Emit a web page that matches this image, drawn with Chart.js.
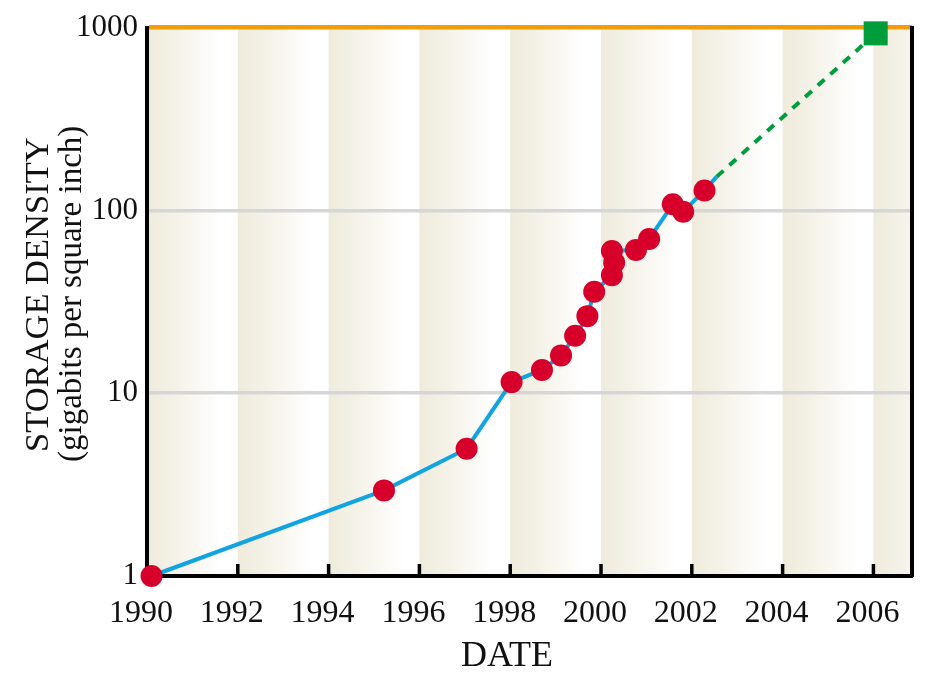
<!DOCTYPE html>
<html>
<head>
<meta charset="utf-8">
<title>Storage density</title>
<script src="https://cdn.jsdelivr.net/npm/chart.js@4.4.0/dist/chart.umd.min.js"></script>
<style>
  html, body { margin: 0; padding: 0; background: #fff; }
  #wrap { width: 940px; height: 677px; }
</style>
</head>
<body>
<div id="wrap"><canvas id="graficaDensidad"></canvas></div>
<script>
// measured drives (red dots, blue line)
const measYears = [1990.1, 1995.22, 1997.04, 1998.03, 1998.70, 1999.12, 1999.43, 1999.70, 1999.85,
                   2000.24, 2000.29, 2000.24, 2000.77, 2001.06, 2001.58, 2001.81, 2002.28, 2002.55];
const measDensity = [1.0, 2.94, 4.97, 11.5, 13.4, 16.1, 20.6, 26.4, 35.9,
                     44.2, 51.8, 60.0, 60.8, 69.8, 108, 98.4, 128.6, 153];
// projection (green dashes and square)
const projYears = [2002.55, 2006.05];
const projDensity = [153, 930];

const xTicks = [1990, 1992, 1994, 1996, 1998, 2000, 2002, 2004, 2006];
const yTicks = [1, 10, 100, 1000];

const serif = '"Liberation Serif", "DejaVu Serif", serif';

// alternating beige bands behind the plot
const bandsPlugin = {
    id: 'bands',
    beforeDraw(chart) {
        const { ctx, chartArea: a, scales: { x } } = chart;
        ctx.save();
        ctx.fillStyle = '#ffffff';
        ctx.fillRect(a.left, a.top, a.right - a.left, a.bottom - a.top);
        for (let yr = 1990; yr < x.max; yr += 2) {
            const x0 = x.getPixelForValue(yr);
            const x1 = Math.min(x.getPixelForValue(yr + 2), a.right);
            const w = x.getPixelForValue(yr + 2) - x0;
            const g = ctx.createLinearGradient(x0, 0, x0 + w * 0.82, 0);
            g.addColorStop(0, '#efebdc');
            g.addColorStop(0.45, '#f5f3ea');
            g.addColorStop(1, '#ffffff');
            ctx.fillStyle = g;
            ctx.fillRect(x0, a.top, x1 - x0, a.bottom - a.top);
        }
        ctx.restore();
    },
    beforeDatasetsDraw(chart) {
        // ticks pointing up into the plot
        const { ctx, chartArea: a, scales: { x } } = chart;
        ctx.save();
        ctx.strokeStyle = '#000';
        ctx.lineWidth = 3.5;
        xTicks.slice(1).forEach(t => {
            const px = x.getPixelForValue(t);
            ctx.beginPath();
            ctx.moveTo(px, a.bottom);
            ctx.lineTo(px, a.bottom - 12);
            ctx.stroke();
        });
        ctx.restore();
    },
    afterDraw(chart) {
        const { ctx } = chart;
        ctx.save();
        ctx.fillStyle = '#111';
        ctx.textAlign = 'left';
        ctx.textBaseline = 'alphabetic';
        ctx.translate(48, 452);
        ctx.rotate(-Math.PI / 2);
        ctx.font = '34.5px ' + serif;
        ctx.fillText('STORAGE DENSITY', 0, 0);
        ctx.font = '33px ' + serif;
        ctx.fillText('(gigabits per square inch)', -10, 33);
        ctx.restore();

        ctx.save();
        ctx.fillStyle = '#111';
        ctx.font = '36px ' + serif;
        ctx.textAlign = 'center';
        ctx.textBaseline = 'alphabetic';
        ctx.fillText('DATE', 507, 666);
        ctx.restore();
    }
};

const ctx = document.getElementById('graficaDensidad');

new Chart(ctx, {
    type: 'scatter',
    data: {
        datasets: [{
            label: 'Medido',
            data: measYears.map((y, i) => ({ x: y, y: measDensity[i] })),
            showLine: true,
            borderColor: '#12a4e0',
            borderWidth: 4,
            backgroundColor: '#d7002b',
            pointBackgroundColor: '#d7002b',
            pointBorderWidth: 0,
            pointRadius: c => c.dataIndex === measYears.length - 1 ? 0 : 11,
            pointHoverRadius: 11,
            clip: false,
            order: 1
        }, {
            label: 'Proyección',
            data: projYears.map((y, i) => ({ x: y, y: projDensity[i] })),
            showLine: true,
            borderColor: '#009d3c',
            borderWidth: 4,
            borderDash: [9, 8],
            pointStyle: 'rect',
            pointBackgroundColor: '#009d3c',
            pointBorderWidth: 0,
            pointRadius: c => c.dataIndex === 0 ? 0 : 17,
            pointHoverRadius: 17,
            clip: false,
            order: 2
        }]
    },
    options: {
        responsive: true,
        maintainAspectRatio: false,
        animation: false,
        events: [],
        layout: { padding: { top: 26, left: 0, right: 0, bottom: 0 } },
        plugins: { legend: { display: false }, tooltip: { enabled: false } },
        scales: {
            x: {
                type: 'linear',
                min: 1990,
                max: 2006.85,
                afterBuildTicks: s => { s.ticks = xTicks.map(v => ({ value: v })); },
                afterFit: s => { s.height = 101; },
                ticks: {
                    callback: v => String(v),
                    color: '#111',
                    font: { family: serif, size: 32 },
                    padding: 18,
                    labelOffset: -6,
                    maxRotation: 0,
                    autoSkip: false
                },
                grid: { display: false, drawTicks: false },
                border: { display: true, color: '#000', width: 4 }
            },
            y: {
                type: 'logarithmic',
                min: 1,
                max: 1000,
                afterBuildTicks: s => { s.ticks = yTicks.map(v => ({ value: v })); },
                afterFit: s => { s.width = 147; },
                ticks: {
                    callback: v => String(v),
                    color: '#111',
                    font: { family: serif, size: 31 },
                    padding: 9
                },
                grid: {
                    drawTicks: false,
                    color: c => c.tick.value === 1000 ? '#f29c0a' : (c.tick.value === 1 ? 'rgba(0,0,0,0)' : '#d6d6d6'),
                    lineWidth: c => c.tick.value === 1000 ? 4.5 : 3.5
                },
                border: { display: true, color: '#000', width: 4 }
            },
            yRight: {
                type: 'logarithmic',
                position: 'right',
                min: 1,
                max: 1000,
                afterFit: s => { s.width = 28; },
                ticks: { display: false },
                grid: { display: false, drawTicks: false },
                border: { display: true, color: '#000', width: 4 }
            }
        }
    },
    plugins: [bandsPlugin]
});
</script>
</body>
</html>
